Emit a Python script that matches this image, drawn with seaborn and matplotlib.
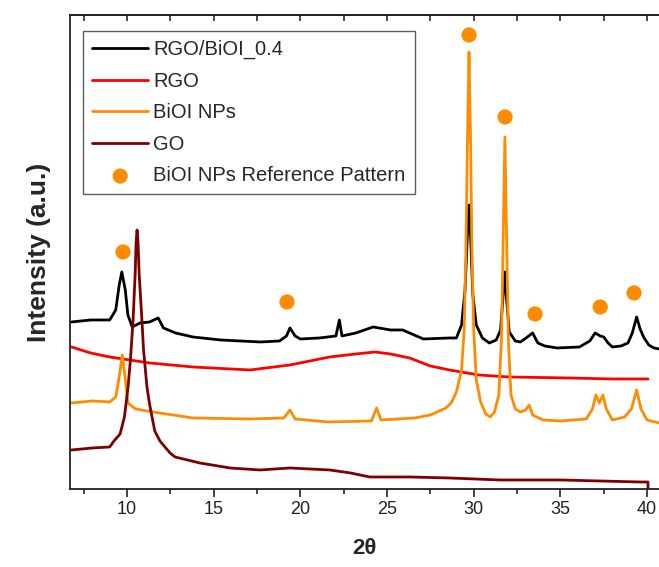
import numpy as np
import pandas as pd
import matplotlib
matplotlib.use("Agg")
import matplotlib.pyplot as plt
from matplotlib.ticker import MultipleLocator
import seaborn as sns

# 2theta / intensity points (a.u., offset stacked)
rgo_bioi_x = [6.8, 7.9, 9.0, 9.35, 9.55, 9.7, 9.9, 10.05, 10.3, 10.75, 11.3, 11.8, 12.1, 12.8, 13.8,
              15.4, 17.7, 18.8, 19.2, 19.4, 19.7, 20.0, 21.1, 22.05, 22.25, 22.4, 23.2, 24.2, 25.2,
              25.9, 27.1, 28.6, 29.0, 29.3, 29.5, 29.65, 29.73, 29.82, 29.95, 30.15, 30.5, 30.9,
              31.3, 31.55, 31.7, 31.8, 31.9, 32.05, 32.4, 32.7, 33.1, 33.4, 33.7, 34.1, 34.8, 36.1,
              36.7, 37.0, 37.3, 37.5, 37.75, 38.0, 38.5, 38.9, 39.15, 39.4, 39.6, 39.8, 40.1, 40.4, 40.7]
rgo_bioi_y = [167, 169, 169, 179, 204, 217, 199, 174, 162, 166, 167, 171, 161, 156, 152,
              149, 147, 148, 153, 161, 153, 150, 151, 153, 169, 153, 156, 162, 159,
              159, 150, 151, 151, 164, 199, 259, 284, 254, 194, 164, 151, 146,
              149, 159, 194, 217, 189, 157, 148, 147, 152, 156, 146, 143, 141, 142,
              148, 156, 153, 152, 146, 142, 143, 146, 156, 172, 160, 152, 144, 141, 140]

rgo_x = [6.8, 7.9, 9.0, 11.3, 13.8, 17.1, 19.4, 21.7, 23.2, 24.3, 25.2, 26.3, 27.5, 28.6,
         30.3, 32.0, 35.5, 38.0, 40.06]
rgo_y = [142, 136, 132, 126, 122, 119, 124, 132, 135, 137, 135, 131, 123, 119,
         114, 112, 111, 110, 110]

bioi_x = [6.8, 8.0, 9.0, 9.35, 9.55, 9.73, 9.9, 10.05, 10.5, 11.5, 13.8, 17.1, 19.05, 19.4, 19.7,
          21.6, 24.1, 24.4, 24.65, 26.6, 27.5, 28.4, 28.7, 29.0, 29.3, 29.45, 29.55, 29.65, 29.73,
          29.81, 29.9, 30.0, 30.15, 30.4, 30.7, 30.95, 31.2, 31.45, 31.6, 31.7, 31.8, 31.9, 32.0,
          32.15, 32.4, 32.7, 33.0, 33.2, 33.4, 34.0, 35.0, 36.5, 36.85, 37.05, 37.25, 37.45, 37.65,
          38.0, 38.7, 39.1, 39.4, 39.65, 40.0, 40.7]
bioi_y = [86, 88, 87, 92, 112, 134, 110, 86, 80, 77, 71, 70, 71, 79, 70,
          67, 68, 81, 69, 71, 74, 81, 86, 97, 119, 159, 239, 359, 437,
          359, 239, 159, 109, 87, 75, 72, 77, 94, 149, 249, 352, 249, 149,
          94, 80, 77, 79, 84, 74, 69, 68, 70, 80, 94, 86, 94, 80,
          69, 72, 80, 99, 80, 69, 66]

go_x = [6.8, 8.0, 9.0, 9.25, 9.6, 9.85, 10.06, 10.2, 10.35, 10.47, 10.52, 10.58, 10.64, 10.7,
        10.86, 10.95, 11.15, 11.3, 11.6, 11.9, 12.48, 12.77,
        14.2, 15.94, 17.67, 19.4, 21.7, 22.9, 24.0, 26.3, 28.6, 31.5, 35.0, 39.6, 40.05, 40.06]
go_y = [39, 41, 42, 48, 55, 72, 102, 130, 169, 215, 245, 259, 245, 215,
        169, 140, 102, 85, 58, 48, 36, 32,
        26, 21, 19, 21, 19, 16, 12, 12, 11, 9, 9, 7, 7, 0]

ref_x = [9.77, 19.23, 29.73, 31.81, 33.54, 37.3, 39.25]
ref_y = [237, 187, 454, 372, 175, 182, 196]

series = [("RGO/BiOI_0.4", rgo_bioi_x, rgo_bioi_y, "#000000"),
          ("RGO", rgo_x, rgo_y, "#ff0000"),
          ("BiOI NPs", bioi_x, bioi_y, "#ff8c00"),
          ("GO", go_x, go_y, "#7d0000")]

sns.set_style("ticks")
plt.rcParams['font.family'] = ['Liberation Sans', 'DejaVu Sans']

fig = plt.figure(figsize=(6.59, 5.67), dpi=100)
ax = fig.add_axes([0.1062, 0.1376, 0.8938, 0.836])

for name, xs, ys, col in series:
    df = pd.DataFrame({"x": xs, "y": ys})
    sns.lineplot(data=df, x="x", y="y", color=col, linewidth=2.0, label=name, ax=ax,
                 sort=False, estimator=None)

sns.scatterplot(x=ref_x, y=ref_y, color="#ff8c00", s=120, edgecolor="none",
                label="BiOI NPs Reference Pattern", ax=ax, zorder=5)

ax.set_xlim(6.71, 40.69)
ax.set_ylim(0, 474)
ax.set_yticks([])
ax.spines["right"].set_visible(False)
for s in ["left", "bottom", "top"]:
    ax.spines[s].set_linewidth(1.3)
    ax.spines[s].set_color("#222222")

ax.xaxis.set_major_locator(MultipleLocator(5))
ax.xaxis.set_minor_locator(MultipleLocator(2.5))
ax.tick_params(axis="x", which="major", direction="out", length=6, width=1.2,
               labelsize=13, pad=3, colors="#222222")
ax.tick_params(axis="x", which="minor", direction="out", length=3.5, width=1.2)

top = ax.secondary_xaxis("top")
top.xaxis.set_major_locator(MultipleLocator(5))
top.xaxis.set_minor_locator(MultipleLocator(2.5))
top.tick_params(which="both", direction="in", length=4, width=1.2, labeltop=False)
top.spines["top"].set_linewidth(1.3)

ax.set_xlabel("2θ", fontsize=16, fontweight="bold", labelpad=14)
ax.set_ylabel("Intensity (a.u.)", fontsize=19, fontweight="bold", labelpad=14)

leg = ax.legend(loc="upper left", bbox_to_anchor=(0.022, 0.966), borderaxespad=0,
                fontsize=14.5, frameon=True, fancybox=False, edgecolor="#333333",
                handlelength=2.8, handletextpad=0.25, labelspacing=0.62, borderpad=0.45)
leg.get_frame().set_linewidth(1.0)

fig.savefig("out.png", dpi=100)
